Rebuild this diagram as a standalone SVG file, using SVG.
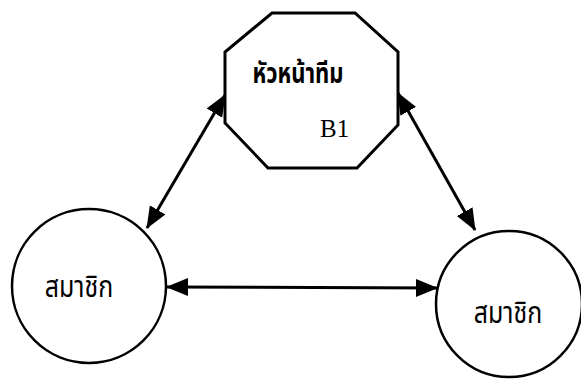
<svg xmlns="http://www.w3.org/2000/svg" width="581" height="381" viewBox="0 0 581 381">
<style>
.node{fill:#fff;stroke:#000;stroke-width:3}
.circ{fill:#fff;stroke:#000;stroke-width:2.5}
.th{font-family:"Noto Sans Thai","Noto Sans","DejaVu Sans",sans-serif;font-size:25px;fill:#000;text-anchor:middle}
.title{font-size:22px;font-weight:bold}
.lbl{font-family:"Liberation Serif",serif;font-size:25px;fill:#000}
.edge{stroke:#000;stroke-width:3;fill:none;marker-start:url(#ah);marker-end:url(#ah)}
</style>
<defs>
<marker id="ah" markerUnits="userSpaceOnUse" markerWidth="24" markerHeight="20" refX="21" refY="9" orient="auto-start-reverse" viewBox="0 0 24 18">
<path d="M0,0 L22,9 L0,18 z" fill="#000"/>
</marker>
</defs>
<rect width="581" height="381" fill="#fff"/>
<g id="connectors">
<line class="edge" x1="225" y1="95" x2="147" y2="228"/>
<line class="edge" x1="398" y1="93" x2="475" y2="230"/>
<line class="edge" x1="167" y1="287" x2="437" y2="288"/>
</g>
<g id="leader">
<polygon class="node" points="272,13 355,13 398,52 398,125 357,168 268,168 225,123 225,52"/>
<text class="th title" transform="translate(298,83) scale(1,1.3)">หัวหน้าทีม</text>
<text class="lbl" x="320" y="137">B1</text>
</g>
<g id="member1">
<circle class="circ" cx="89" cy="286" r="77"/>
<text class="th" transform="translate(79,297) scale(1,1.2)">สมาชิก</text>
</g>
<g id="member2">
<circle class="circ" cx="509" cy="304" r="73"/>
<text class="th" transform="translate(508,323) scale(1,1.2)">สมาชิก</text>
</g>
</svg>
